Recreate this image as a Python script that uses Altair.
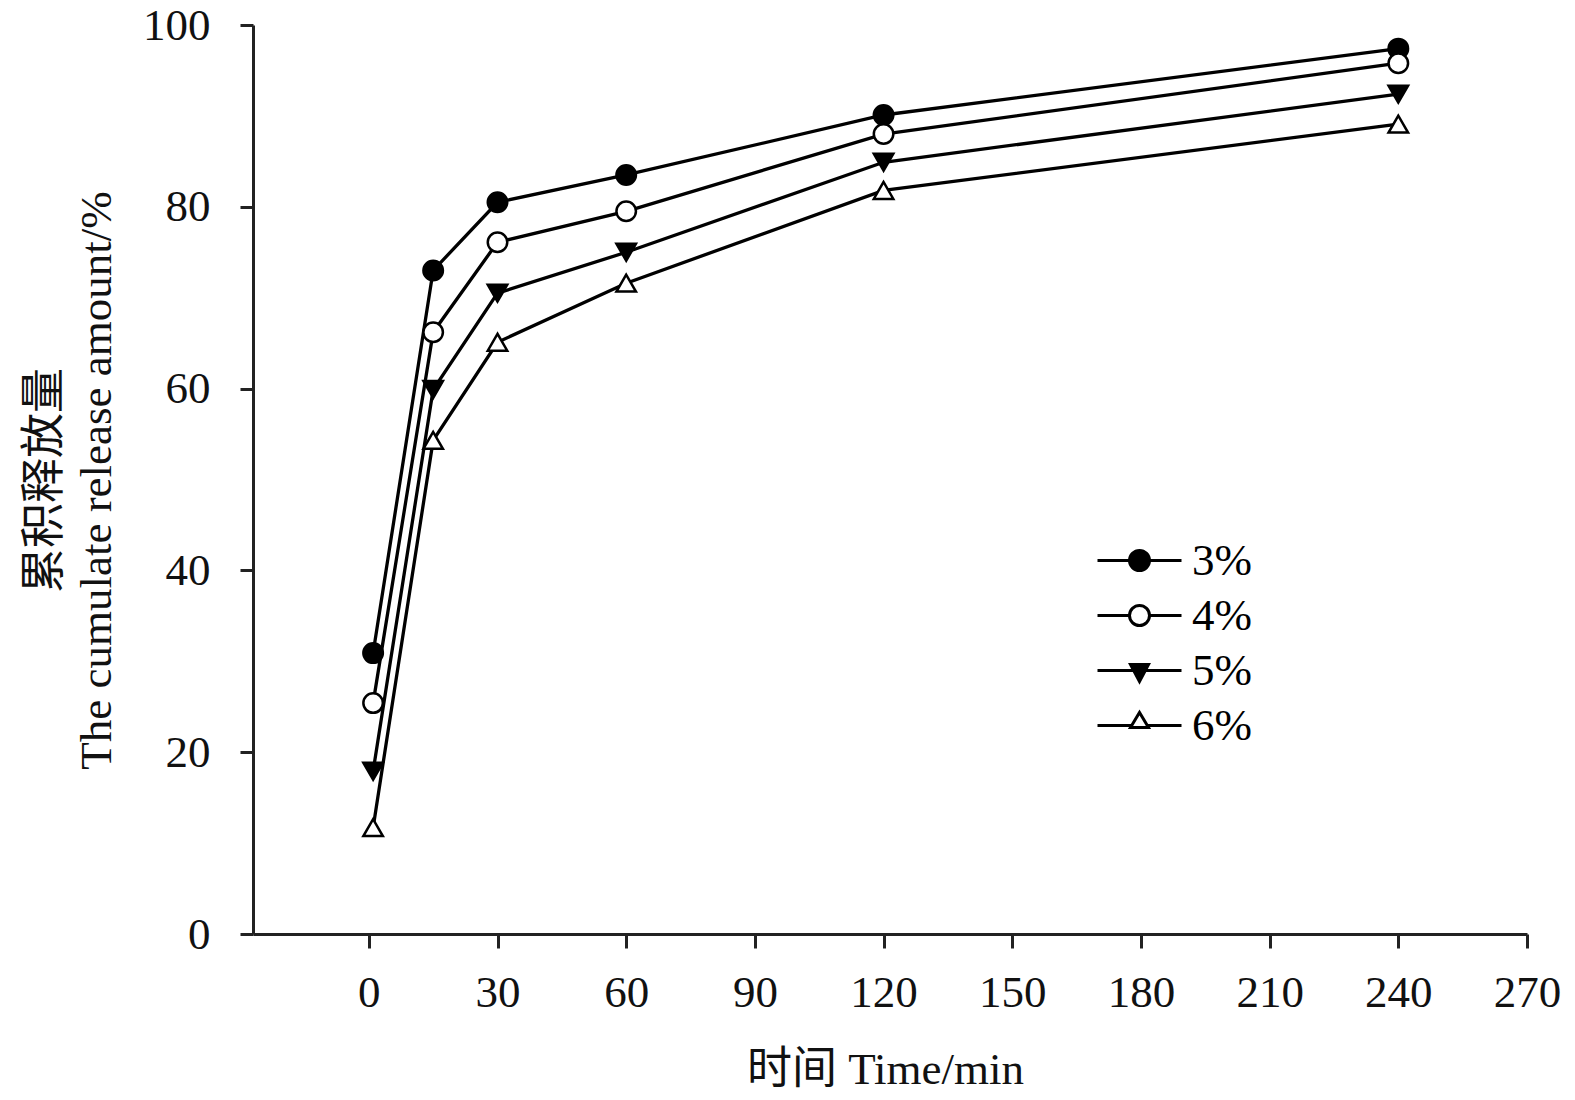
import altair as alt
import pandas as pd

# ---- data ----
times = [1, 15, 30, 60, 120, 240]
series_names = ["3%", "4%", "5%", "6%"]
release_3 = [30.9, 73.0, 80.5, 83.5, 90.1, 97.4]
release_4 = [25.4, 66.2, 76.1, 79.5, 88.0, 95.8]
release_5 = [17.9, 59.9, 70.5, 75.0, 84.9, 92.4]
release_6 = [11.7, 54.3, 65.1, 71.6, 81.8, 89.1]
x_ticks = [0, 30, 60, 90, 120, 150, 180, 210, 240, 270]
y_ticks = [0, 20, 40, 60, 80, 100]

rows = []
for name, vals in zip(series_names, [release_3, release_4, release_5, release_6]):
    for t, v in zip(times, vals):
        rows.append({"time": t, "release": v, "series": name})
df = pd.DataFrame(rows)

FONT = "Liberation Serif, Times New Roman, Noto Sans CJK SC"

# marker styling
shape_range = ["circle", "circle", "triangle-down", "triangle-up"]
fill_range = ["black", "white", "black", "white"]
stroke_range = ["black", "black", "black", "black"]

# legend symbols: line with marker (custom paths, 1 unit = sqrt(size)/2 px)
circ = ("M0.333,0 C0.333,0.184 0.184,0.333 0,0.333 C-0.184,0.333 -0.333,0.184 -0.333,0 "
        "C-0.333,-0.184 -0.184,-0.333 0,-0.333 C0.184,-0.333 0.333,-0.184 0.333,0 Z")
leg_circle = "M-1.4,0 L-0.333,0 M0.333,0 L1.4,0 " + circ
leg_tdown = "M-1.4,0 L1.4,0 M-0.3,-0.2 L0.3,-0.2 L0,0.367 Z"
leg_tup = "M-1.4,0 L-0.26,0 M0.26,0 L1.4,0 M-0.3,0.067 L0,-0.433 L0.3,0.067 Z"
legend_shapes = [leg_circle, leg_circle, leg_tdown, leg_tup]

x_enc = alt.X(
    "time:Q",
    scale=alt.Scale(domain=[-27, 270], nice=False, zero=False),
    axis=alt.Axis(
        values=x_ticks, title="时间 Time/min", titleX=632, titleY=149,
        titleBaseline="alphabetic", titleFontSize=45, titleFont=FONT,
        titleFontWeight="normal", labelFontSize=45, labelFont=FONT,
        labelPadding=22, tickSize=14, labelFlush=False, labelOverlap=False,
    ),
)
y_enc = alt.Y(
    "release:Q",
    scale=alt.Scale(domain=[0, 100], nice=False),
    axis=alt.Axis(
        values=y_ticks, title=["累积释放量", "The cumulate release amount/%"],
        titleX=-195, titleY=455, titleAngle=-90, titleBaseline="alphabetic",
        titleAlign="center", titleLineHeight=52, titleFontSize=45,
        titleFont=FONT, titleFontWeight="normal", labelFontSize=45,
        labelFont=FONT, labelPadding=30, tickSize=13, labelFlush=False,
        labelOverlap=False,
    ),
)

base = alt.Chart(df)

lines = base.mark_line(color="black", strokeWidth=3.3).encode(
    x=x_enc, y=y_enc, detail="series:N"
)

points = base.mark_point(stroke="black", strokeWidth=2.5, opacity=1, fillOpacity=1, size=380).encode(
    x="time:Q",
    y="release:Q",
    shape=alt.Shape("series:N", scale=alt.Scale(domain=series_names, range=shape_range), legend=None),
    fill=alt.Fill("series:N", scale=alt.Scale(domain=series_names, range=fill_range), legend=None),
)

leg = alt.Legend(
    title=None, orient="none", legendX=855, legendY=504,
    symbolSize=3600, symbolStrokeWidth=3, symbolStrokeColor="black",
    labelFont=FONT, labelFontSize=45, labelOffset=21, rowPadding=0,
    symbolOpacity=1,
)

legend_layer = base.transform_filter("datum.release < 0").mark_point(
    strokeWidth=3, opacity=1, fillOpacity=1, strokeOpacity=1
).encode(
    x="time:Q",
    y="release:Q",
    shape=alt.Shape("series:N", scale=alt.Scale(domain=series_names, range=legend_shapes), legend=leg),
    fill=alt.Fill("series:N", scale=alt.Scale(domain=series_names, range=fill_range), legend=leg),
    stroke=alt.Stroke("series:N", scale=alt.Scale(domain=series_names, range=stroke_range), legend=leg),
)

chart = (
    alt.layer(lines, points, legend_layer)
    .resolve_scale(shape="independent", fill="independent", stroke="independent")
    .properties(
        width=1274, height=909,
        autosize=alt.AutoSizeParams(type="none"),
        padding={"left": 245, "top": 17, "right": 40, "bottom": 158},
        background="white",
    )
    .configure_view(stroke=None)
    .configure_axis(
        grid=False, domainColor="#222", domainWidth=3, tickColor="#222",
        tickWidth=3, labelColor="#111", titleColor="#111",
    )
)

chart.save("out.html", embed_options={"renderer": "svg", "actions": False})
